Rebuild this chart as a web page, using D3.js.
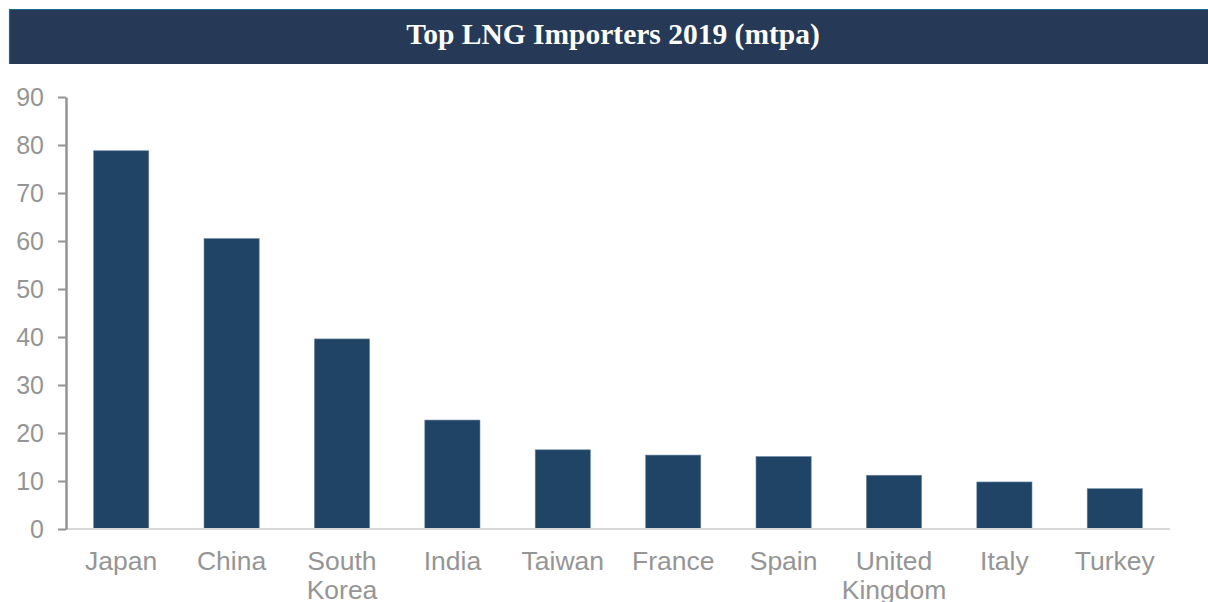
<!DOCTYPE html>
<html>
<head>
<meta charset="utf-8">
<script src="https://cdn.jsdelivr.net/npm/d3@7"></script>
<style>
  body { margin: 0; background: #fff; }
  svg { display: block; }
</style>
</head>
<body>
<div class="container"></div>
<script>
var countries = ['Japan', 'China', 'South Korea', 'India', 'Taiwan', 'France', 'Spain', 'United Kingdom', 'Italy', 'Turkey'];
var imports = [78.8, 60.5, 39.6, 22.7, 16.5, 15.4, 15.1, 11.2, 9.8, 8.4];
var yTicks = [0, 10, 20, 30, 40, 50, 60, 70, 80, 90];
var title = 'Top LNG Importers 2019 (mtpa)';

const WIDTH = 1208;
const HEIGHT = 602;
var plot = {left: 66, right: 1170, top: 97, bottom: 529};

var svg = d3.select('.container').append('svg')
	.attr('width', WIDTH)
	.attr('height', HEIGHT);

// title banner, teal edge on top and left only
svg.append('rect')
	.attr('x', 9).attr('y', 9)
	.attr('width', WIDTH - 9).attr('height', 55)
	.attr('fill', '#263a58');
svg.append('path')
	.attr('d', 'M9.5,64V9.5H' + WIDTH)
	.attr('fill', 'none')
	.attr('stroke', '#1b6f8e')
	.attr('stroke-width', 1.2);
svg.append('text')
	.attr('x', 613).attr('y', 44)
	.attr('text-anchor', 'middle')
	.attr('fill', '#fff')
	.style('font-family', '"Liberation Serif", "DejaVu Serif", serif')
	.style('font-weight', 'bold')
	.style('font-size', '29.5px')
	.text(title);

var x = d3.scaleBand()
	.domain(countries)
	.range([plot.left, plot.right])
	.paddingInner(0.5)
	.paddingOuter(0.25);

var y = d3.scaleLinear()
	.domain([0, 90])
	.range([plot.bottom, plot.top]);

// bars
svg.append('g').selectAll('rect')
	.data(imports)
	.enter().append('rect')
	.attr('x', function(d, i) { return x(countries[i]); })
	.attr('width', x.bandwidth())
	.attr('y', function(d) { return y(d); })
	.attr('height', function(d) { return y(0) - y(d); })
	.attr('fill', '#204466')
	.attr('stroke', '#6f8aa5')
	.attr('stroke-width', 0.6);

// x baseline
svg.append('line')
	.attr('x1', plot.left).attr('x2', plot.right)
	.attr('y1', y(0)).attr('y2', y(0))
	.attr('stroke', '#d9d9d9')
	.attr('stroke-width', 2);

// y axis
var yAxis = d3.axisLeft(y).tickValues(yTicks).tickSize(8).tickPadding(14).tickSizeOuter(0);
var yg = svg.append('g')
	.attr('transform', 'translate(' + plot.left + ',0)')
	.call(yAxis);
yg.select('.domain').attr('stroke', '#939393').attr('stroke-width', 2.5);
yg.selectAll('.tick line').attr('stroke', '#939393').attr('stroke-width', 2);
yg.selectAll('.tick text')
	.attr('fill', '#959595')
	.style('font-family', '"Liberation Sans", Arial, sans-serif')
	.style('font-size', '25px');

// x labels, wrapped on the space like the original
var xl = svg.append('g').selectAll('text')
	.data(countries)
	.enter().append('text')
	.attr('x', function(d) { return x(d) + x.bandwidth() / 2; })
	.attr('y', 570)
	.attr('text-anchor', 'middle')
	.attr('fill', '#959595')
	.style('font-family', '"Liberation Sans", Arial, sans-serif')
	.style('font-size', '26.5px');
xl.each(function(d) {
	var words = d.split(' ');
	var t = d3.select(this);
	words.forEach(function(w, i) {
		t.append('tspan')
			.attr('x', x(d) + x.bandwidth() / 2)
			.attr('dy', i === 0 ? 0 : 29)
			.text(w);
	});
});
</script>
</body>
</html>
